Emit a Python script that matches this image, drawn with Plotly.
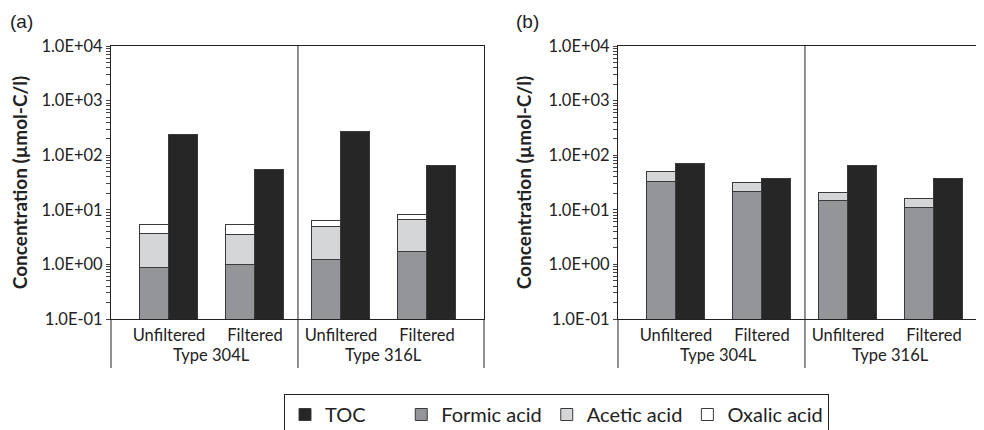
import plotly.graph_objects as go

categories = ["Unfiltered", "Filtered", "Unfiltered", "Filtered"]
groups = ["Type 304L", "Type 316L"]
series_names = ["TOC", "Formic acid", "Acetic acid", "Oxalic acid"]

# Panel (a)
a_toc = [237, 53.6, 262, 64]
a_formic = [0.87, 0.96, 1.19, 1.66]
a_acetic = [2.73, 2.54, 3.59, 4.84]
a_oxalic = [1.6, 1.7, 1.5, 1.6]

# Panel (b)
b_toc = [69, 36.2, 64, 37.1]
b_formic = [32.7, 21.5, 14.3, 10.6]
b_acetic = [17.2, 9.0, 6.3, 5.2]
b_oxalic = [0, 0, 0, 0]

ytick_vals = [0.1, 1, 10, 100, 1000, 10000]
ytick_text = ["1.0E-01", "1.0E+00", "1.0E+01", "1.0E+02", "1.0E+03", "1.0E+04"]

colors = {"TOC": "#262626", "Formic acid": "#939598",
          "Acetic acid": "#d5d6d8", "Oxalic acid": "#ffffff"}
EDGE = "#3a3a3a"
FONT = "Lato"
BW = 0.337
# legend labels (TOC entry is followed by a wide gap in the original legend)
legend_labels = {"TOC": "TOC" + "\u00a0" * 6, "Formic acid": "Formic acid",
                 "Acetic acid": "Acetic acid", "Oxalic acid": "Oxalic acid"}

fig = go.Figure()

xs = list(range(len(categories)))
x_stack = [x - BW / 2 for x in xs]
x_toc = [x + BW / 2 for x in xs]

panels = [
    ("x", "y", a_toc, a_formic, a_acetic, a_oxalic, True),
    ("x2", "y2", b_toc, b_formic, b_acetic, b_oxalic, False),
]
for xa, ya, toc, formic, acetic, oxalic, show in panels:
    fig.add_trace(go.Bar(x=x_toc, y=toc, name=legend_labels["TOC"], width=BW,
                         marker=dict(color=colors["TOC"], line=dict(color=EDGE, width=1)),
                         xaxis=xa, yaxis=ya, showlegend=show, legendgroup="TOC"))
    for nm, vals in (("Formic acid", formic), ("Acetic acid", acetic), ("Oxalic acid", oxalic)):
        fig.add_trace(go.Bar(x=x_stack, y=vals, name=legend_labels[nm], width=BW,
                             marker=dict(color=colors[nm], line=dict(color=EDGE, width=1)),
                             xaxis=xa, yaxis=ya, showlegend=show, legendgroup=nm))

# page body has an 8px margin; the figure is sized so it fills the window
OFF = 8
W, H = 984 - OFF, 430 - OFF
def px(x):
    return (x - OFF) / W
def py(y):
    return (H - (y - OFF)) / H

y_dom = [py(319), py(46)]
xa_dom = [px(111), px(484)]
xb_dom = [px(618), 1.0]

common_x = dict(showline=True, linecolor="#222", linewidth=1, mirror=True, automargin=False,
                tickvals=xs, ticktext=categories, ticks="outside", ticklen=1,
                tickcolor="rgba(0,0,0,0)", showgrid=False, zeroline=False,
                tickfont=dict(family=FONT, size=16.5, color="#222"))
common_y = dict(type="log", range=[-1, 4], showline=True, linecolor="#222", linewidth=1,
                automargin=False,
                tickvals=ytick_vals, ticktext=ytick_text, ticks="outside", ticklen=4,
                tickcolor="#444", showgrid=False, zeroline=False,
                minor=dict(ticks="outside", ticklen=4, tickcolor="#444", dtick="D1", showgrid=False),
                tickfont=dict(family=FONT, size=16.5, color="#222"))

ytitle = dict(text="<b>Concentration (µmol-C/l)</b>",
              font=dict(family=FONT, size=19, color="#222"), standoff=11)

fig.update_layout(
    width=W, height=H, margin=dict(l=0, r=0, t=0, b=0, autoexpand=False),
    plot_bgcolor="white", paper_bgcolor="white",
    barmode="stack", bargap=0,
    xaxis=dict(domain=xa_dom, range=[-0.674, 3.663], anchor="y", **common_x),
    yaxis=dict(domain=y_dom, anchor="x", mirror=True, title=ytitle, **common_y),
    xaxis2=dict(domain=xb_dom, range=[-0.674, 3.582], anchor="y2", **common_x),
    yaxis2=dict(domain=y_dom, anchor="x2", mirror=False, title=ytitle, **common_y),
    legend=dict(orientation="h", x=px(284), y=py(394), xanchor="left", yanchor="top",
                bordercolor="#222", borderwidth=1, traceorder="normal",
                font=dict(family=FONT, size=20, color="#222"),
                itemwidth=30),
    showlegend=True,
)

shapes = []
for xa, xd in (("x", xa_dom), ("x2", xb_dom)):
    shapes.append(dict(type="line", xref=xa, yref="paper", x0=1.5, x1=1.5,
                       y0=py(368), y1=py(46), line=dict(color="#222", width=1)))
    shapes.append(dict(type="line", xref="paper", yref="paper", x0=xd[0], x1=xd[0],
                       y0=py(368), y1=py(319), line=dict(color="#222", width=1)))
shapes.append(dict(type="line", xref="paper", yref="paper", x0=xa_dom[1], x1=xa_dom[1],
                   y0=py(368), y1=py(319), line=dict(color="#222", width=1)))
fig.update_layout(shapes=shapes)

ann = []
for xa in ("x", "x2"):
    for gi, g in enumerate(groups):
        ann.append(dict(text=g, xref=xa, yref="paper", x=0.5 + 2 * gi, y=py(355),
                        showarrow=False, yanchor="middle",
                        font=dict(family=FONT, size=16.5, color="#222")))
ann.append(dict(text="(a)", xref="paper", yref="paper", x=px(8), y=py(21), xanchor="left",
                yanchor="middle", showarrow=False, font=dict(family="Liberation Sans", size=19, color="#222")))
ann.append(dict(text="(b)", xref="paper", yref="paper", x=px(514), y=py(21), xanchor="left",
                yanchor="middle", showarrow=False, font=dict(family="Liberation Sans", size=19, color="#222")))
fig.update_layout(annotations=ann)

fig.write_html("out.html")
